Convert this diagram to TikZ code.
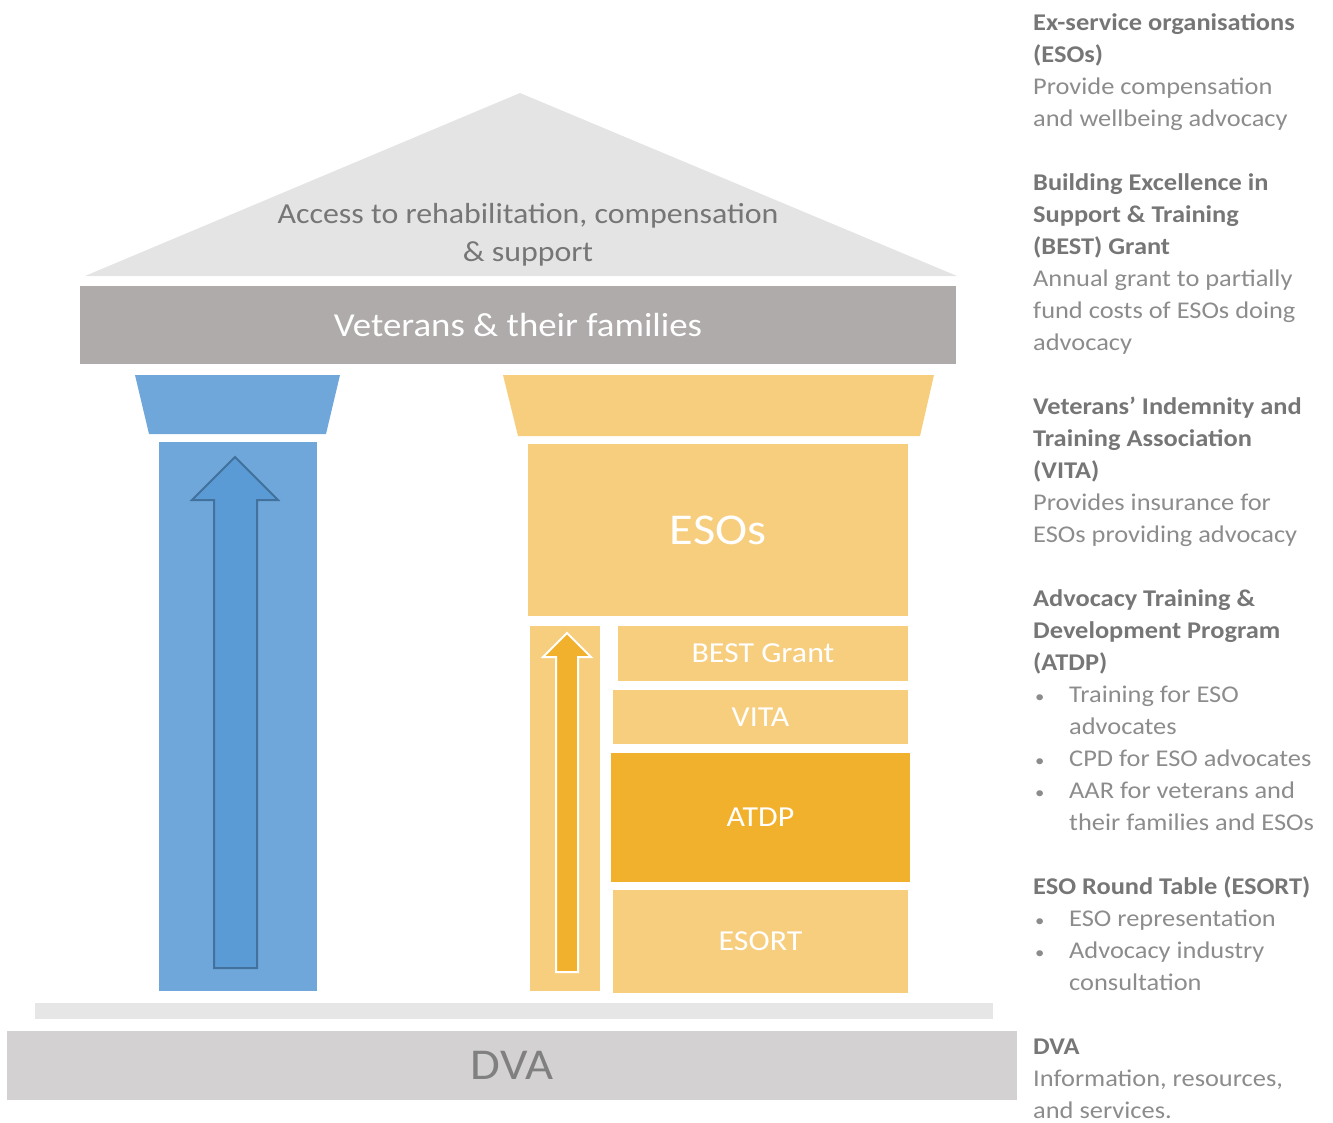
\documentclass[tikz,border=0pt]{standalone}
\usepackage{fontspec}
\setmainfont{Carlito}[FakeStretch=1.1]
\usepackage{tikz}
\definecolor{ctecho}{HTML}{E4E4E4}
\definecolor{cbanda}{HTML}{AFABAB}
\definecolor{cazul}{HTML}{6FA7DA}
\definecolor{cazulosc}{HTML}{5B9BD5}
\definecolor{cazulborde}{HTML}{41719C}
\definecolor{cambar}{HTML}{F7CE7E}
\definecolor{cambaro}{HTML}{F2B12C}
\definecolor{cbase}{HTML}{E6E6E6}
\definecolor{cdva}{HTML}{D3D1D1}
\definecolor{cgristit}{HTML}{767676}
\definecolor{cgrisnota}{HTML}{8C8C8C}
\definecolor{cgrisdva}{HTML}{808080}
\tikzset{
  franja/.style={rectangle, inner sep=0pt, fill=cbanda, text=white,
    font=\fontsize{33.5}{40}\selectfont},
  pilar/.style={rectangle, inner sep=0pt, fill=cazul},
  bloque/.style={rectangle, inner sep=0pt, fill=cambar, text=white,
    font=\fontsize{29}{34}\selectfont},
  bloqueo/.style={bloque, fill=cambaro},
  losa/.style={rectangle, inner sep=0pt, fill=cbase},
  suelo/.style={rectangle, inner sep=0pt, fill=cdva, text=cgrisdva,
    font=\fontsize{44}{54}\selectfont},
  nota/.style={anchor=north west, inner sep=0pt, align=left, text=cgrisnota,
    font=\fontsize{24}{32}\selectfont},
  flechaazul/.style={fill=cazulosc, draw=cazulborde, line width=2pt},
  flechaambar/.style={fill=cambaro, draw=white, line width=2pt},
}
\newcommand{\tit}[1]{\textcolor{cgristit}{\bfseries #1}}
\newcommand{\punto}{\makebox[36pt][l]{\hspace{2pt}{\fontsize{17}{17}\selectfont\textbullet}}}
\newcommand{\sangria}{\hspace*{36pt}}

\begin{document}
\begin{tikzpicture}[x=1pt, y=-1pt]
  \useasboundingbox (0,0) rectangle (1333,1122);

  % roof and architrave
  \fill[ctecho] (85,276) -- (520,93) -- (957,276) -- cycle;
  \node[align=center, text=cgristit, font=\fontsize{29}{38}\selectfont] (techo) at (528,235)
    {Access to rehabilitation, compensation\\\& support};
  \node[franja, minimum width=876, minimum height=78] (vet) at (518,325) {Veterans \& their families};

  % blue column
  \fill[cazul] (135,375) -- (340,375) -- (326,434) -- (149,434) -- cycle;
  \node[pilar, minimum width=158, minimum height=549] (pilar) at (238,716.5) {};
  \draw[flechaazul] (235,457) -- (278,500) -- (257,500) -- (257,968)
    -- (214,968) -- (214,500) -- (192,500) -- cycle;

  % yellow column
  \fill[cambar] (503,375) -- (934,375) -- (920,436) -- (518,436) -- cycle;
  \node[bloque, minimum width=380, minimum height=172, font=\fontsize{44}{54}\selectfont] (esos) at (718,530) {ESOs};
  \node[bloque, minimum width=70, minimum height=365] (varilla) at (565,808.5) {};
  \draw[flechaambar] (567,633) -- (591,657) -- (578,657) -- (578,972)
    -- (556,972) -- (556,657) -- (543,657) -- cycle;
  \node[bloque, minimum width=290, minimum height=55] (best) at (763,653.5) {BEST Grant};
  \node[bloque, minimum width=295, minimum height=54] (vita) at (760.5,717) {VITA};
  \node[bloqueo, minimum width=299, minimum height=129] (atdp) at (760.5,817.5) {ATDP};
  \node[bloque, minimum width=295, minimum height=103] (esort) at (760.5,941.5) {ESORT};

  % base
  \node[losa, minimum width=958, minimum height=16] (losa) at (514,1011) {};
  \node[suelo, minimum width=1010, minimum height=69] (dva) at (512,1065.5) {DVA};

  % side notes
  \node[nota] (n1) at (1033,7.6) {\strut\tit{Ex-service organisations}\\
    \tit{(ESOs)}\\
    Provide compensation\\
    and wellbeing advocacy};
  \node[nota] (n2) at (1033,167.6) {\strut\tit{Building Excellence in}\\
    \tit{Support \& Training}\\
    \tit{(BEST) Grant}\\
    Annual grant to partially\\
    fund costs of ESOs doing\\
    advocacy};
  \node[nota] (n3) at (1033,391.6) {\strut\tit{Veterans’ Indemnity and}\\
    \tit{Training Association}\\
    \tit{(VITA)}\\
    Provides insurance for\\
    ESOs providing advocacy};
  \node[nota] (n4) at (1033,583.6) {\strut\tit{Advocacy Training \&}\\
    \tit{Development Program}\\
    \tit{(ATDP)}\\
    \punto Training for ESO\\
    \sangria advocates\\
    \punto CPD for ESO advocates\\
    \punto AAR for veterans and\\
    \sangria their families and ESOs};
  \node[nota] (n5) at (1033,871.6) {\strut\tit{ESO Round Table (ESORT)}\\
    \punto ESO representation\\
    \punto Advocacy industry\\
    \sangria consultation};
  \node[nota] (n6) at (1033,1031.6) {\strut\tit{DVA}\\
    Information, resources,\\
    and services.};
\end{tikzpicture}
\end{document}
